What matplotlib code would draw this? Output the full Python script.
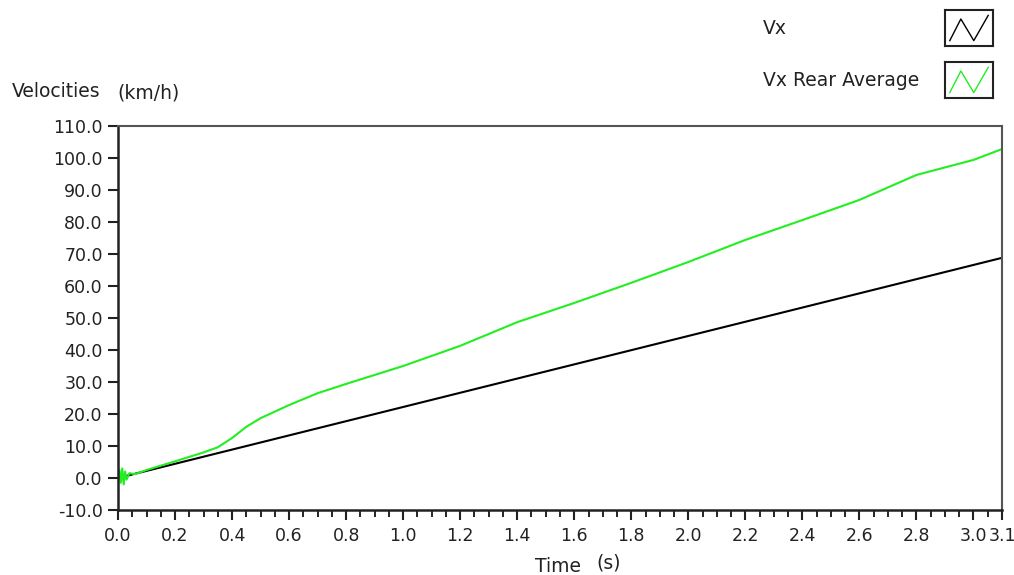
import numpy as np
import matplotlib.pyplot as plt
from matplotlib.ticker import MultipleLocator

# values
t_vx = [0.0, 3.1]
vx = [0.0, 68.8]

t_rear = [0.0, 0.005, 0.01, 0.015, 0.02, 0.025, 0.03, 0.04, 0.06, 0.1, 0.2, 0.3, 0.35, 0.4, 0.45, 0.5,
          0.6, 0.7, 0.8, 1.0, 1.2, 1.4, 1.6, 1.8, 2.0, 2.2, 2.4, 2.6, 2.8, 3.0, 3.1]
vx_rear = [0.0, 2.5, -1.5, 3.0, -2.0, 2.0, -0.5, 1.5, 1.2, 2.5, 5.2, 8.0, 9.6, 12.5, 16.0, 18.7,
           22.8, 26.5, 29.4, 35.0, 41.3, 48.7, 54.7, 61.0, 67.5, 74.4, 80.6, 86.9, 94.7, 99.4, 102.8]

series_names = ['Vx', 'Vx Rear Average']
series_colors = ['#000000', '#22ee22']

fig = plt.figure(figsize=(10.14, 5.75), dpi=100)
ax = fig.add_axes([118/1014, 1-510/575, (1002-118)/1014, (510-126)/575])

ax.plot(t_vx, vx, color=series_colors[0], lw=1.5)
ax.plot(t_rear, vx_rear, color=series_colors[1], lw=1.5)

ax.set_xlim(0, 3.1)
ax.set_ylim(-10, 110)
ax.set_xticks([0.0, 0.2, 0.4, 0.6, 0.8, 1.0, 1.2, 1.4, 1.6, 1.8, 2.0, 2.2, 2.4, 2.6, 2.8, 3.0, 3.1])
ax.set_xticklabels(['%.1f' % v for v in ax.get_xticks()])
ax.xaxis.set_minor_locator(MultipleLocator(0.05))
ax.set_yticks(np.arange(-10, 111, 10))
ax.set_yticklabels(['%.1f' % v for v in ax.get_yticks()])

ax.tick_params(axis='both', which='major', labelsize=12.5, colors='#222222', width=1.5, length=7)
ax.tick_params(axis='y', which='major', pad=4)
ax.tick_params(axis='x', which='major', pad=5, length=7)
ax.tick_params(axis='x', which='minor', width=1.2, length=5)
for s in ['left', 'bottom']:
    ax.spines[s].set_linewidth(1.8)
    ax.spines[s].set_color('#222222')
for s in ['top', 'right']:
    ax.spines[s].set_linewidth(1.5)
    ax.spines[s].set_color('#555555')

# axis labels
fig.text(12/1014, 1-91/575, 'Velocities', fontsize=13.5, color='#222222', va='center')
fig.text(117/1014, 1-93/575, '(km/h)', fontsize=13.5, color='#222222', va='center')
fig.text(535/1014, 1-567/575, 'Time', fontsize=13.5, color='#222222', va='center')
fig.text(596/1014, 1-563/575, '(s)', fontsize=13.5, color='#222222', va='center')

# legend
leg_y = [28, 80]
for name, col, y in zip(series_names, series_colors, leg_y):
    fig.text(763/1014, 1-y/575, name, fontsize=13.5, color='#222222', va='center')
    lax = fig.add_axes([945/1014, 1-(y+18)/575, 48/1014, 36/575])
    lax.plot([0.1, 0.33, 0.6, 0.9], [0.15, 0.75, 0.15, 0.85], color=col, lw=1.0)
    lax.set_xlim(0, 1)
    lax.set_ylim(0, 1)
    lax.set_xticks([])
    lax.set_yticks([])
    for s in lax.spines.values():
        s.set_linewidth(1.5)
        s.set_color('#222222')

fig.savefig('out.png', dpi=100)
